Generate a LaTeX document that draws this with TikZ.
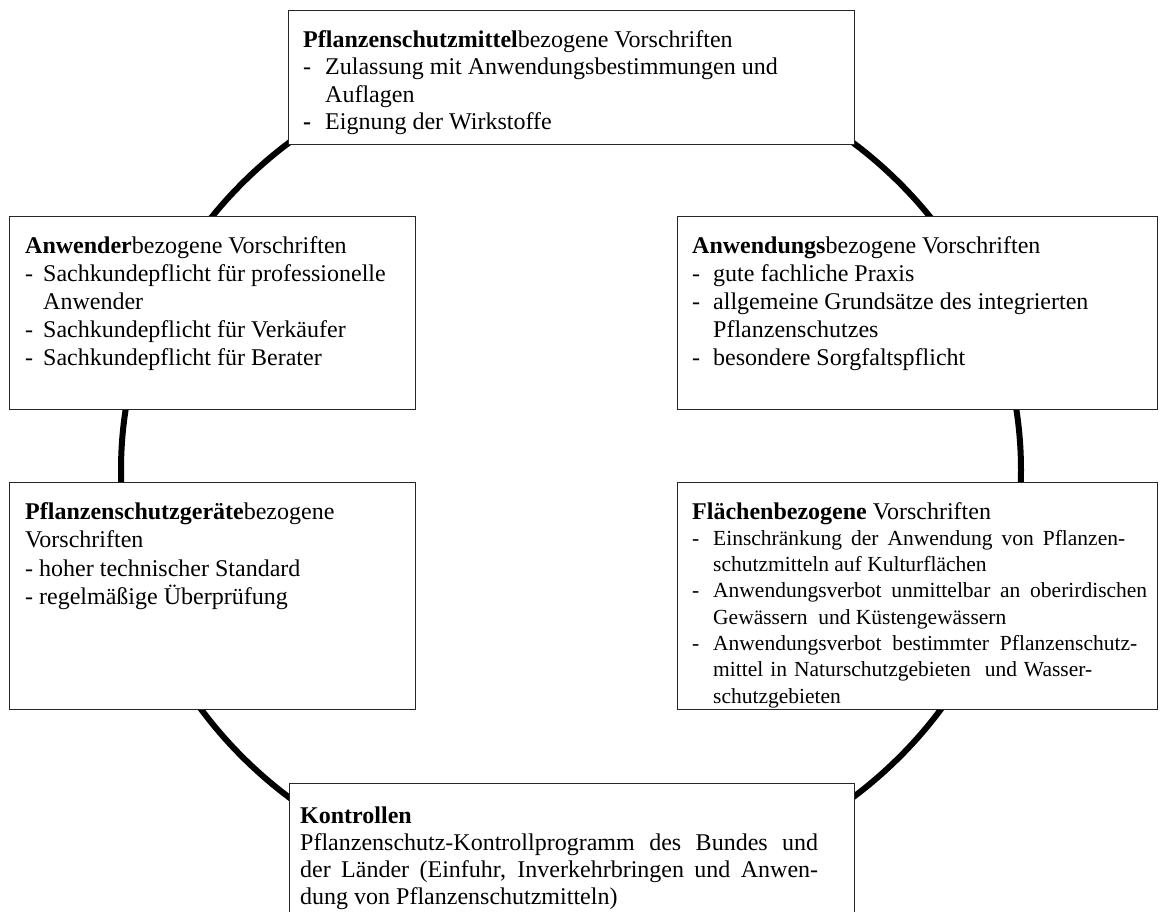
\documentclass[tikz,border=0pt]{standalone}
\usepackage{fontspec}
\setmainfont{Liberation Serif}
\newcommand\dashitem[2]{\makebox[#1][l]{-}#2}
\newcommand\contitem[2]{\hspace*{#1}#2}
\begin{document}
\begin{tikzpicture}[x=1pt,y=-1pt,
  box/.style={draw=black!85, line width=1.3pt, fill=white, rectangle, inner sep=0pt, anchor=north west},
  txt/.style={anchor=base west, inner sep=0pt, align=left},
  ring/.style={draw=black, line width=6pt}]
\useasboundingbox (0,0) rectangle (1160,911);
\clip (0,0) rectangle (1160,911);
\fill[white] (0,0) rectangle (1160,911);
% ring
\draw[ring] (571,470) ellipse [x radius=450pt, y radius=420pt];
% boxes
\node[box, minimum width=566pt, minimum height=134pt] (tb) at (288,10) {};
\node[box, minimum width=406pt, minimum height=193pt] (ab) at (9,216) {};
\node[box, minimum width=480pt, minimum height=193pt] (nb) at (677,216) {};
\node[box, minimum width=406pt, minimum height=227pt] (gb) at (9,482) {};
\node[box, minimum width=480pt, minimum height=227pt] (fb) at (677,482) {};
\node[box, minimum width=565pt, minimum height=160pt] (kb) at (289,783) {};
% texts
\node[txt] (tt) at (303,47) {\fontsize{24}{27.5}\selectfont
\begin{tabular}[t]{@{}l@{}}
\textbf{Pflanzenschutzmittel}bezogene Vorschriften\\
\dashitem{22pt}{Zulassung mit Anwendungsbestimmungen und}\\
\contitem{22pt}{Auflagen}\\
\makebox[22pt][l]{\textbf{-}}Eignung der Wirkstoffe
\end{tabular}};
\node[txt] (at) at (25,253) {\fontsize{24}{28}\selectfont
\begin{tabular}[t]{@{}l@{}}
\textbf{Anwender}bezogene Vorschriften\\
\dashitem{18pt}{Sachkundepflicht für professionelle}\\
\contitem{18pt}{Anwender}\\
\dashitem{18pt}{Sachkundepflicht für Verkäufer}\\
\dashitem{18pt}{Sachkundepflicht für Berater}
\end{tabular}};
\node[txt] (nt) at (692,253) {\fontsize{24}{28}\selectfont
\begin{tabular}[t]{@{}l@{}}
\textbf{Anwendungs}bezogene Vorschriften\\
\dashitem{21pt}{gute fachliche Praxis}\\
\dashitem{21pt}{allgemeine Grundsätze des integrierten}\\
\contitem{21pt}{Pflanzenschutzes}\\
\dashitem{21pt}{besondere Sorgfaltspflicht}
\end{tabular}};
\node[txt] (gt) at (25,519) {\fontsize{24}{28.5}\selectfont
\begin{tabular}[t]{@{}l@{}}
\textbf{Pflanzenschutzgeräte}bezogene\\
Vorschriften\\
- hoher technischer Standard\\
- regelmäßige Überprüfung
\end{tabular}};
\node[txt] (ft) at (692,519) {\fontsize{21.5}{26.3}\selectfont
\begin{tabular}[t]{@{}l@{}}
{\fontsize{24}{26.3}\selectfont\textbf{Flächenbezogene} Vorschriften}\\
\dashitem{21pt}{\makebox[412pt][s]{Einschränkung der Anwendung von Pflanzen-}}\\
\contitem{21pt}{schutzmitteln auf Kulturflächen}\\
\dashitem{21pt}{\makebox[434pt][s]{Anwendungsverbot unmittelbar an oberirdischen}}\\
\contitem{21pt}{Gewässern\ \ und Küstengewässern}\\
\dashitem{21pt}{\makebox[424pt][s]{Anwendungsverbot bestimmter Pflanzenschutz-}}\\
\contitem{21pt}{\makebox[379pt][s]{mittel in Naturschutzgebieten\ \ und Wasser-}}\\
\contitem{21pt}{schutzgebieten}
\end{tabular}};
\node[txt] (kt) at (300,823) {\fontsize{24}{27}\selectfont
\begin{tabular}[t]{@{}l@{}}
\textbf{Kontrollen}\\
\makebox[518pt][s]{Pflanzenschutz-Kontrollprogramm des Bundes und}\\
\makebox[518pt][s]{der Länder (Einfuhr, Inverkehrbringen und Anwen-}\\
dung von Pflanzenschutzmitteln)
\end{tabular}};
\end{tikzpicture}
\end{document}
